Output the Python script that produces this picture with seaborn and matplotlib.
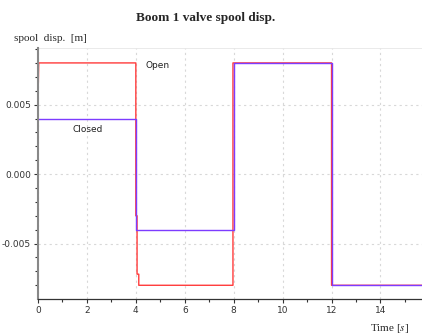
import numpy as np
import pandas as pd
import matplotlib
matplotlib.use("Agg")
import matplotlib.pyplot as plt
from matplotlib.ticker import MultipleLocator
import seaborn as sns

# Spool displacement traces (time in s, displacement in m), drawn as step vertices
open_t = [0.0, 0.0, 0.03, 4.0, 4.0, 4.05, 4.05, 4.12, 4.12, 7.97, 7.97, 12.0, 12.0, 16.0]
open_x = [0.0052, 0.0052, 0.008, 0.008, -0.003, -0.003, -0.0072, -0.0072, -0.008, -0.008,
          0.008, 0.008, -0.008, -0.008]
closed_t = [0.0, 4.0, 4.0, 8.0, 8.0, 12.0, 12.0, 16.0]
closed_x = [0.004, 0.004, -0.004, -0.004, 0.008, 0.008, -0.008, -0.008]

x_ticks = [0, 2, 4, 6, 8, 10, 12, 14]
y_ticks = [-0.005, 0.0, 0.005]

sns.set_style("white")
plt.rcParams["mathtext.fontset"] = "stix"
fig = plt.figure(figsize=(4.22, 3.36), dpi=100)
ax = fig.add_axes([0.09, 0.11, 0.92, 0.747])

df_open = pd.DataFrame({"t": open_t, "x": open_x})
df_closed = pd.DataFrame({"t": closed_t, "x": closed_x})
sns.lineplot(data=df_open, x="t", y="x", ax=ax, sort=False, estimator=None,
             color="#ff3b3b", lw=1.0)
sns.lineplot(data=df_closed, x="t", y="x", ax=ax, sort=False, estimator=None,
             color="#7d3cff", lw=1.0)

ax.set_xlim(0, 15.87)
ax.set_ylim(-0.00899, 0.00907)
ax.set_xticks(x_ticks)
ax.set_yticks(y_ticks)
ax.set_yticklabels([f"{v:.3f}" for v in y_ticks])
ax.xaxis.set_minor_locator(MultipleLocator(1))
ax.yaxis.set_minor_locator(MultipleLocator(0.001))
ax.tick_params(axis="both", which="major", labelsize=6.5, length=3, width=0.8,
               color="#333333", labelcolor="#333333", pad=2)
ax.tick_params(axis="both", which="minor", length=2, width=0.8, color="#333333")
ax.tick_params(left=True, bottom=True, which="both")

ax.grid(True, which="major", ls=(0, (2, 3)), color="#d8d8d8", lw=0.8)
ax.axhline(0.00907, color="#e6e6e6", lw=1.2)

for s in ["top", "right"]:
    ax.spines[s].set_visible(False)
ax.spines["left"].set_color("#888888")
ax.spines["left"].set_linewidth(1.5)
ax.spines["bottom"].set_color("#333333")
ax.spines["bottom"].set_linewidth(0.9)

ax.set_xlabel("")
ax.set_ylabel("")

ax.text(4.4, 0.0076, "Open", fontsize=6.5, color="#222222")
ax.text(1.4, 0.0030, "Closed", fontsize=6.5, color="#222222")

serif = "Liberation Serif"
fig.text(0.488, 0.945, "Boom 1 valve spool disp.", ha="center", va="center",
         fontsize=9.5, fontweight="bold", family=serif)
fig.text(0.033, 0.885, "spool  disp.  [m]", ha="left", va="center",
         fontsize=8, family=serif)
fig.text(0.97, 0.023, r"Time [$\mathit{s}$]", ha="right", va="center",
         fontsize=8, family=serif)

fig.savefig("out.png", dpi=100)
